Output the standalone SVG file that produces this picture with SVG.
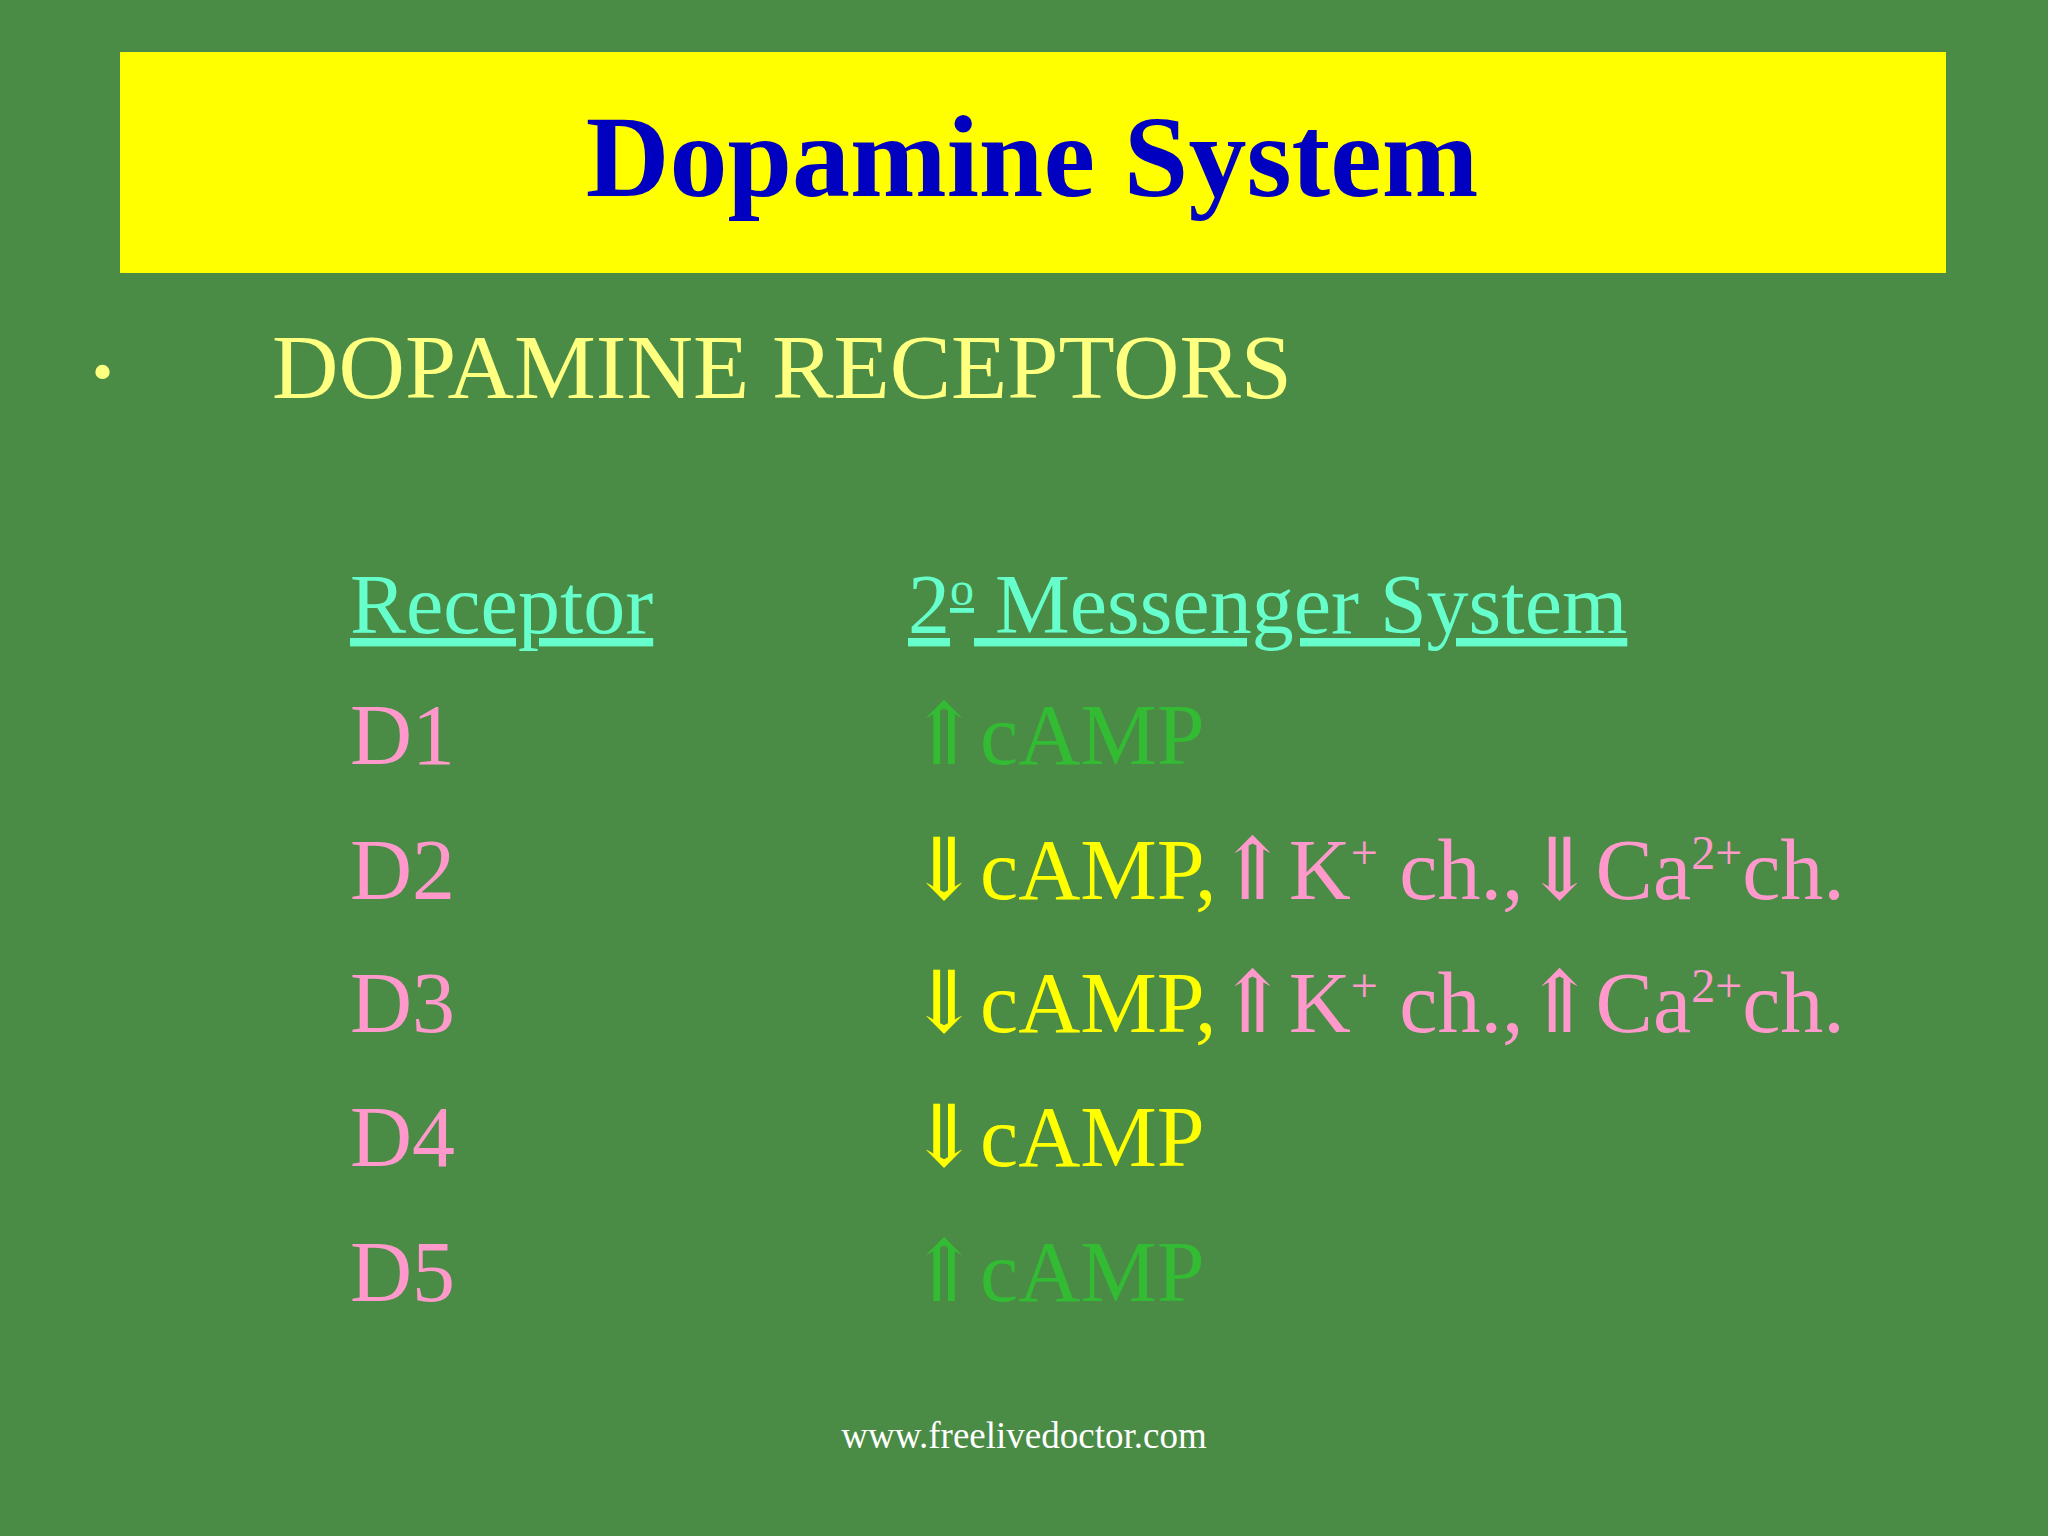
<svg xmlns="http://www.w3.org/2000/svg" width="2048" height="1536" viewBox="0 0 2048 1536">
<style>
text{font-family:"Liberation Serif","DejaVu Serif",serif}
.row{font-size:86px}
.pink{fill:#ff99cc}
.yel{fill:#ffff00}
.grn{fill:#33bb33}
.hdr{font-size:84px;fill:#66ffcc;text-decoration:underline}
.sup{font-size:48px}
</style>
<rect width="2048" height="1536" fill="#4a8c45"/>
<g id="title">
<rect x="120" y="52" width="1826" height="221" fill="#ffff00"/>
<text x="1032" y="196" text-anchor="middle" font-size="116" font-weight="bold" fill="#0000c0">Dopamine System</text>
</g>
<g id="subtitle">
<text x="92" y="392" font-size="60" fill="#ffff80">•</text>
<text x="272" y="398" font-size="92" fill="#ffff80">DOPAMINE RECEPTORS</text>
</g>
<g id="header">
<text x="350" y="633" class="hdr">Receptor</text>
<text x="908" y="633" class="hdr">2<tspan class="sup" dy="-28">o</tspan><tspan dy="28"> Messenger System</tspan></text>
</g>
<g id="rows" class="row">
<text x="350" y="764" class="pink">D1</text>
<text x="908" y="764" class="grn">⇑cAMP</text>
<text x="350" y="899" class="pink">D2</text>
<text x="908" y="899"><tspan class="yel">⇓cAMP,</tspan><tspan class="pink">⇑K<tspan class="sup" dy="-30">+</tspan><tspan dy="30"> ch.,⇓Ca</tspan><tspan class="sup" dy="-30">2+</tspan><tspan dy="30">ch.</tspan></tspan></text>
<text x="350" y="1032" class="pink">D3</text>
<text x="908" y="1032"><tspan class="yel">⇓cAMP,</tspan><tspan class="pink">⇑K<tspan class="sup" dy="-30">+</tspan><tspan dy="30"> ch.,⇑Ca</tspan><tspan class="sup" dy="-30">2+</tspan><tspan dy="30">ch.</tspan></tspan></text>
<text x="350" y="1166" class="pink">D4</text>
<text x="908" y="1166" class="yel">⇓cAMP</text>
<text x="350" y="1301" class="pink">D5</text>
<text x="908" y="1301" class="grn">⇑cAMP</text>
</g>
<g id="footer">
<text x="1024" y="1448" text-anchor="middle" font-size="37" fill="#ffffff">www.freelivedoctor.com</text>
</g>
</svg>
